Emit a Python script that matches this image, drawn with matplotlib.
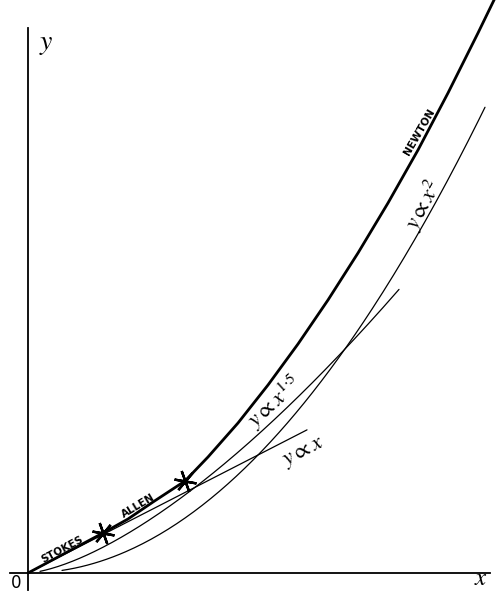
import numpy as np
import matplotlib.pyplot as plt

# units: 1 unit = 10 px of the original drawing, origin at the corner "0"
# thick curve (Stokes -> Allen -> Newton)
thick_x = [0, 7.5, 10, 12.5, 15.7, 18, 21, 24, 27, 30, 33, 36, 39, 42, 45, 46.7, 47.5]
thick_y = [0, 4.0, 5.4, 7.1, 9.2, 11.6, 15.0, 18.8, 22.9, 27.3, 32.0, 37.0, 42.3, 48.0, 54.0, 57.5, 59.2]

# change-over points marked with a star
star_x = [7.5, 15.7]
star_y = [4.0, 9.2]

# thin reference laws y = k * x**n
law_names = [r'$y \propto x$', r'$y \propto x^{1{\cdot}5}$', r'$y \propto x^{2}$']
law_n = [1, 1.5, 2]
law_k = [0.513, 0.1255, 0.0223]
law_start = [0.0, 1.2, 3.4]
law_end = [27.9, 37.1, 45.7]

# label spots (x, y, rotation)
law_label_pos = [(27.6, 12.0, 27), (24.7, 17.1, 42), (39.6, 36.8, 61)]
words = ['STOKES', 'ALLEN', 'NEWTON']
word_pos = [(3.4, 2.3, 28), (11.0, 6.7, 31), (39.1, 44.1, 60)]

plt.rcParams['mathtext.fontset'] = 'stix'

fig = plt.figure(figsize=(5.0, 5.93), dpi=100)
ax = fig.add_axes([0, 0, 1, 1])
ax.set_xlim(-2.8, 47.2)
ax.set_ylim(-2.0, 57.3)

# axes drawn as crossing spines
for s in ['top', 'right']:
    ax.spines[s].set_visible(False)
ax.spines['left'].set_position(('data', 0))
ax.spines['bottom'].set_position(('data', 0))
ax.spines['left'].set_bounds(-1.7, 54.5)
ax.spines['bottom'].set_bounds(-1.8, 46.2)
ax.spines['left'].set_linewidth(1.3)
ax.spines['bottom'].set_linewidth(1.3)
ax.set_xticks([])
ax.set_yticks([])

# thin power laws
for n, k, x0, x1 in zip(law_n, law_k, law_start, law_end):
    xs = np.linspace(x0, x1, 200)
    ax.plot(xs, k * xs ** n, color='black', lw=0.9, solid_capstyle='round')

# main curve
ax.plot(thick_x, thick_y, color='black', lw=2.0, solid_capstyle='round')
ax.plot(star_x, star_y, ls='none', marker=(6, 2, 20), markersize=16,
        mec='black', mew=1.7)

for name, (lx, ly, rot) in zip(law_names, law_label_pos):
    ax.text(lx, ly, name, fontsize=16, rotation=rot, ha='center', va='center',
            rotation_mode='anchor')

for w, (lx, ly, rot) in zip(words, word_pos):
    ax.text(lx, ly, w, fontsize=7.5, fontweight='bold', rotation=rot,
            ha='center', va='center', rotation_mode='anchor')

ax.text(1.1, 53.0, r'$y$', fontsize=20, ha='left', va='center')
ax.text(45.3, -0.5, r'$x$', fontsize=18, ha='center', va='center')
ax.text(-1.2, -1.0, '0', fontsize=12, ha='center', va='center')

fig.savefig('out.png', dpi=100)
